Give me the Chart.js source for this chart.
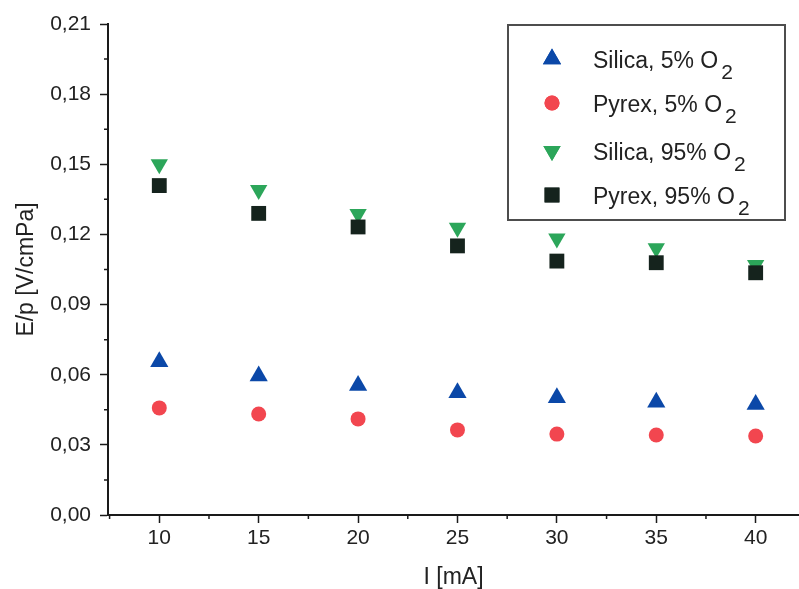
<!DOCTYPE html>
<html>
<head>
<meta charset="utf-8">
<script src="https://cdn.jsdelivr.net/npm/chart.js@4/dist/chart.umd.min.js"></script>
<style>
    html, body { margin: 0; padding: 0; background: #fff; }
    #wrap { width: 799px; height: 589px; }
</style>
</head>
<body>
<div id="wrap"><canvas id="chart" width="799" height="589"></canvas></div>
<script>
// 電流 [mA]
const CURRENT = [10, 15, 20, 25, 30, 35, 40];

// E/p [V/cmPa]
const SILICA_5 = [0.0655, 0.0594, 0.0554, 0.0523, 0.0501, 0.0482, 0.0473];
const PYREX_5 = [0.0458, 0.0432, 0.0411, 0.0364, 0.0346, 0.0342, 0.0338];
const SILICA_95 = [0.1500, 0.1390, 0.1287, 0.1229, 0.1183, 0.1141, 0.1069];
const PYREX_95 = [0.1409, 0.1290, 0.1232, 0.1151, 0.1086, 0.1079, 0.1036];

const SERIES_NAMES = ['Silica, 5% O', 'Pyrex, 5% O', 'Silica, 95% O', 'Pyrex, 95% O'];
const X_TICKS = [10, 15, 20, 25, 30, 35, 40];
const X_MINOR = [7.5, 12.5, 17.5, 22.5, 27.5, 32.5, 37.5];
const Y_TICKS = [0, 0.03, 0.06, 0.09, 0.12, 0.15, 0.18, 0.21];
const Y_MINOR = [0.015, 0.045, 0.075, 0.105, 0.135, 0.165, 0.195];

const FONT = 'Liberation Sans, Arial, sans-serif';
const TEXT_COLOR = '#222';
const AXIS_COLOR = '#1a1a1a';

const STYLES = [
    { color: '#0b48a8', pointStyle: 'triangle', radius: 10.5, rotation: 0 },
    { color: '#f2464f', pointStyle: 'circle', radius: 7.5, rotation: 0 },
    { color: '#2ca65a', pointStyle: 'triangle', radius: 10, rotation: 180 },
    { color: '#15231d', pointStyle: 'rect', radius: 10.5, rotation: 0 }
];

function toPoints(ys) {
    return CURRENT.map((x, i) => ({ x, y: ys[i] }));
}

const datasets = [SILICA_5, PYREX_5, SILICA_95, PYREX_95].map((ys, i) => ({
    label: SERIES_NAMES[i],
    data: toPoints(ys),
    showLine: false,
    pointStyle: STYLES[i].pointStyle,
    pointRadius: STYLES[i].radius,
    pointHoverRadius: STYLES[i].radius,
    pointRotation: STYLES[i].rotation,
    backgroundColor: STYLES[i].color,
    borderColor: STYLES[i].color,
    borderWidth: 0,
    order: i === 3 ? 0 : 1
}));

// 補助目盛り (短い目盛り線)
const minorTicks = {
    id: 'minorTicks',
    afterDraw(chart) {
        const { ctx, chartArea, scales } = chart;
        ctx.save();
        ctx.strokeStyle = AXIS_COLOR;
        ctx.lineWidth = 1.5;
        ctx.beginPath();
        X_MINOR.forEach(v => {
            const px = scales.x.getPixelForValue(v);
            if (px < chartArea.left || px > chartArea.right) return;
            ctx.moveTo(px, chartArea.bottom);
            ctx.lineTo(px, chartArea.bottom + 4);
        });
        Y_MINOR.forEach(v => {
            const py = scales.y.getPixelForValue(v);
            ctx.moveTo(chartArea.left - 4, py);
            ctx.lineTo(chartArea.left, py);
        });
        ctx.stroke();
        ctx.restore();
    }
};

// 凡例 (O2 の下付き文字付き)
const subLegend = {
    id: 'subLegend',
    afterDraw(chart) {
        const ctx = chart.ctx;
        const box = { x: 508, y: 25, w: 277, h: 195 };
        const rows = [59, 103, 151, 195];
        ctx.save();
        ctx.fillStyle = '#fff';
        ctx.fillRect(box.x, box.y, box.w, box.h);
        ctx.strokeStyle = '#4d4d4d';
        ctx.lineWidth = 2;
        ctx.strokeRect(box.x, box.y, box.w, box.h);
        chart.data.datasets.forEach((ds, i) => {
            const y = rows[i];
            const st = STYLES[i];
            ctx.fillStyle = st.color;
            ctx.strokeStyle = st.color;
            ctx.lineWidth = 0;
            Chart.helpers.drawPoint(ctx, {
                pointStyle: st.pointStyle,
                radius: st.radius,
                rotation: st.rotation,
                borderWidth: 0
            }, 552, y);
            ctx.fill();
            ctx.fillStyle = TEXT_COLOR;
            ctx.textBaseline = 'alphabetic';
            ctx.textAlign = 'left';
            ctx.font = '23px ' + FONT;
            ctx.fillText(ds.label, 593, y + 9);
            const w = ctx.measureText(ds.label).width;
            ctx.font = '21px ' + FONT;
            ctx.fillText('2', 593 + w + 3, y + 20);
        });
        ctx.restore();
    }
};

new Chart(document.getElementById('chart'), {
    type: 'scatter',
    data: { datasets },
    options: {
        responsive: false,
        animation: false,
        events: [],
        layout: { autoPadding: false, padding: { top: 24, right: 0, left: 0, bottom: 0 } },
        plugins: {
            legend: { display: false },
            tooltip: { enabled: false }
        },
        scales: {
            x: {
                type: 'linear',
                min: 7.42,
                max: 42.18,
                afterFit: s => { s.height = 74; s.paddingLeft = 0; s.paddingRight = 0; },
                afterBuildTicks: s => { s.ticks = X_TICKS.map(v => ({ value: v })); },
                ticks: {
                    color: TEXT_COLOR,
                    font: { family: FONT, size: 21 },
                    padding: 3,
                    maxRotation: 0
                },
                grid: {
                    drawOnChartArea: false,
                    drawTicks: true,
                    tickLength: 8,
                    tickWidth: 1.5,
                    tickColor: AXIS_COLOR
                },
                border: { display: true, color: AXIS_COLOR, width: 2 },
                title: {
                    display: true,
                    text: 'I [mA]',
                    color: TEXT_COLOR,
                    font: { family: FONT, size: 23 },
                    padding: { top: 0, bottom: -2 }
                }
            },
            y: {
                type: 'linear',
                min: 0,
                max: 0.21,
                afterFit: s => { s.width = 108; s.paddingTop = 0; s.paddingBottom = 0; },
                afterBuildTicks: s => { s.ticks = Y_TICKS.map(v => ({ value: v })); },
                ticks: {
                    color: TEXT_COLOR,
                    font: { family: FONT, size: 21 },
                    padding: 9,
                    callback: v => v.toFixed(2).replace('.', ',')
                },
                grid: {
                    drawOnChartArea: false,
                    drawTicks: true,
                    tickLength: 8,
                    tickWidth: 1.5,
                    tickColor: AXIS_COLOR
                },
                border: { display: true, color: AXIS_COLOR, width: 2 },
                title: {
                    display: true,
                    text: 'E/p [V/cmPa]',
                    color: TEXT_COLOR,
                    font: { family: FONT, size: 23 },
                    padding: { top: 13, bottom: 0 }
                }
            }
        }
    },
    plugins: [minorTicks, subLegend]
});
</script>
</body>
</html>
